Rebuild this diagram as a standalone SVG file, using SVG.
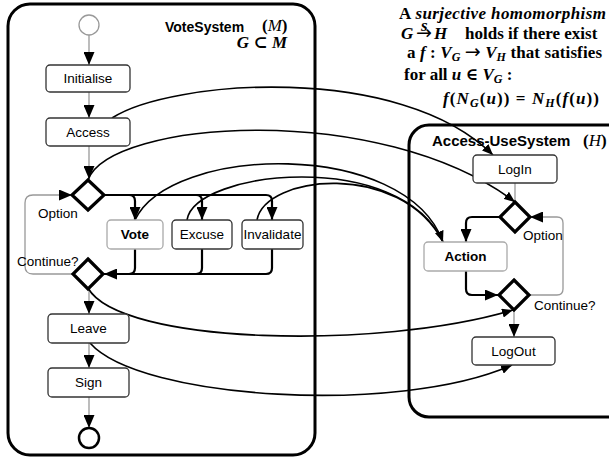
<svg xmlns="http://www.w3.org/2000/svg" width="609" height="462" viewBox="0 0 609 462">
<style>
.cont{fill:none;stroke:#000;stroke-width:3}
.box{fill:#fff;stroke:#333;stroke-width:1.3}
.boxl{fill:#fff;stroke:#aaa;stroke-width:1.3}
.dia{fill:#fff;stroke:#000;stroke-width:3.2;stroke-linejoin:miter}
.lbl{font-family:"Liberation Sans",Arial,sans-serif;font-size:13.5px;fill:#000;text-anchor:middle}
.lblb{font-family:"Liberation Sans",Arial,sans-serif;font-size:13.5px;font-weight:bold;fill:#000;text-anchor:middle}
.note{font-family:"Liberation Sans",Arial,sans-serif;font-size:13.5px;fill:#000}
.ttl{font-family:"Liberation Sans",Arial,sans-serif;font-weight:bold;fill:#000}
.m{font-family:"Liberation Serif","Times New Roman","DejaVu Serif",serif;font-size:17px;font-weight:bold;fill:#000}
.ar{font-family:"DejaVu Sans",sans-serif;font-weight:normal;font-size:19px}
.flow{fill:none;stroke:#999;stroke-width:1.3}
.thick{fill:none;stroke:#000;stroke-width:2.2}
.curve{fill:none;stroke:#000;stroke-width:1.6}
</style>
<defs>
<marker id="ah" markerUnits="userSpaceOnUse" markerWidth="13" markerHeight="11" refX="13" refY="5.5" orient="auto"><path d="M0,0 L13,5.5 L0,11 z" fill="#000"/></marker>
<marker id="ahs" markerUnits="userSpaceOnUse" markerWidth="11" markerHeight="9" refX="11" refY="4.5" orient="auto"><path d="M0,0 L11,4.5 L0,9 z" fill="#000"/></marker>
</defs>
<rect width="609" height="462" fill="#fff"/>

<g id="VoteSystem">
<rect class="cont" x="8" y="4" width="307" height="451" rx="22"/>
<text class="ttl" font-size="14" x="165" y="32">VoteSystem</text>
<text class="m" font-size="15" x="262" y="31">(<tspan font-style="italic" font-weight="normal">M</tspan>)</text>
<text class="m" font-size="16" x="287" y="48" text-anchor="end" font-style="italic">G ⊂ M</text>
</g>

<g id="AccessUseSystem">
<rect class="cont" x="409" y="125" width="220" height="292" rx="20"/>
<text class="ttl" font-size="15" x="432" y="146">Access-UseSystem</text>
<text class="m" font-size="16" x="583" y="146">(<tspan font-style="italic" font-weight="normal">H</tspan>)</text>
</g>

<g id="definition">
<text class="m" x="399" y="19" textLength="207" lengthAdjust="spacing">A <tspan font-style="italic">surjective homomorphism</tspan></text>
<text class="m" y="39"><tspan x="401" font-style="italic">G</tspan><tspan x="416" class="ar">→</tspan><tspan x="434" font-style="italic">H</tspan><tspan x="465">holds if there exist</tspan></text>
<text class="m" x="421" y="31" font-size="9" font-style="italic">s</text>
<text class="m" x="407" y="58" textLength="195" lengthAdjust="spacing">a <tspan font-style="italic">f</tspan> : <tspan font-style="italic">V</tspan><tspan font-size="12" font-style="italic" dy="3">G</tspan><tspan dy="-3"> </tspan><tspan class="ar">→</tspan><tspan> </tspan><tspan font-style="italic">V</tspan><tspan font-size="12" font-style="italic" dy="3">H</tspan><tspan dy="-3"> that satisfies</tspan></text>
<text class="m" x="404" y="80">for all <tspan font-style="italic">u</tspan> ∈ <tspan font-style="italic">V</tspan><tspan font-size="12" font-style="italic" dy="3">G</tspan><tspan dy="-3"> :</tspan></text>
<text class="m" x="443" y="104" textLength="156" lengthAdjust="spacing"><tspan font-style="italic">f</tspan>(<tspan font-style="italic">N</tspan><tspan font-size="12" font-style="italic" dy="3">G</tspan><tspan dy="-3">(</tspan><tspan font-style="italic">u</tspan>)) = <tspan font-style="italic">N</tspan><tspan font-size="12" font-style="italic" dy="3">H</tspan><tspan dy="-3">(</tspan><tspan font-style="italic">f</tspan>(<tspan font-style="italic">u</tspan>))</text>
</g>

<g id="connectors">
<line class="flow" x1="89" y1="35" x2="89" y2="65" marker-end="url(#ah)"/>
<line class="flow" x1="89" y1="92" x2="89" y2="118" marker-end="url(#ah)"/>
<line class="flow" x1="89" y1="146" x2="89" y2="179" marker-end="url(#ah)"/>
<path class="flow" d="M73,274 H33 Q25,274 25,266 V203 Q25,195 33,195 H72" marker-end="url(#ah)"/>
<path class="thick" d="M104,195 H266 Q272,195 272,201 V220" marker-end="url(#ah)"/>
<path class="thick" d="M129,195 Q135,195 135,201 V220" marker-end="url(#ah)"/>
<path class="thick" d="M196,195 Q202,195 202,201 V220" marker-end="url(#ah)"/>
<path class="thick" d="M272,249 V268 Q272,274 266,274 H104" marker-end="url(#ah)"/>
<path class="thick" d="M202,249 V268 Q202,274 196,274"/>
<path class="thick" d="M135,249 V268 Q135,274 129,274"/>
<line class="flow" x1="89" y1="289" x2="89" y2="314" marker-end="url(#ah)"/>
<line class="flow" x1="89" y1="343" x2="89" y2="368" marker-end="url(#ah)"/>
<line class="flow" x1="89" y1="397" x2="89" y2="428" marker-end="url(#ah)"/>
<line class="flow" x1="515" y1="183" x2="515" y2="202"/>
<path class="thick" d="M500,217 H472 Q466,217 466,223 V242" marker-end="url(#ah)"/>
<path class="thick" d="M466,271 V289 Q466,295 472,295 H498" marker-end="url(#ah)"/>
<line class="flow" x1="514" y1="310" x2="514" y2="337" marker-end="url(#ah)"/>
<path class="flow" d="M529,295 H557 Q563,295 563,289 V223 Q563,217 557,217 H530" marker-end="url(#ah)"/>
<path class="curve" d="M112,118 C170,80 400,62 493,155" marker-end="url(#ahs)"/>
<path class="curve" d="M88,180 C110,120 380,100 515,202" marker-end="url(#ahs)"/>
<path class="curve" d="M135,220 C170,145 405,138 443,242" marker-end="url(#ahs)"/>
<path class="curve" d="M187,220 C195,170 400,148 443,242"/>
<path class="curve" d="M257,220 C265,175 400,160 443,242"/>
<path class="curve" d="M88,288 C120,345 380,350 513,310" marker-end="url(#ahs)"/>
<path class="curve" d="M90,343 C140,400 400,415 512,365" marker-end="url(#ahs)"/>
</g>

<g id="start"><circle cx="89" cy="25" r="10" fill="#fff" stroke="#999" stroke-width="1.3"/></g>
<g id="Initialise"><rect class="box" x="46" y="65" width="84" height="27" rx="4"/><text class="lbl" x="88" y="83">Initialise</text></g>
<g id="Access"><rect class="box" x="46" y="118" width="84" height="28" rx="4"/><text class="lbl" x="88" y="137">Access</text></g>
<g id="OptionV"><polygon class="dia" points="88,180 104,195 88,210 72,195"/><text class="note" x="38" y="218">Option</text></g>
<g id="Vote"><rect class="boxl" x="107" y="220" width="56" height="29" rx="4"/><text class="lblb" x="135" y="239">Vote</text></g>
<g id="Excuse"><rect class="box" x="172" y="220" width="60" height="29" rx="4"/><text class="lbl" x="202" y="239">Excuse</text></g>
<g id="Invalidate"><rect class="box" x="242" y="220" width="61" height="29" rx="4"/><text class="lbl" x="272.5" y="239">Invalidate</text></g>
<g id="ContinueV"><polygon class="dia" points="88,259 103,274 88,289 73,274"/><text class="note" x="17" y="266">Continue?</text></g>
<g id="Leave"><rect class="box" x="48" y="314" width="81" height="29" rx="4"/><text class="lbl" x="88.5" y="333">Leave</text></g>
<g id="Sign"><rect class="box" x="48" y="368" width="81" height="29" rx="4"/><text class="lbl" x="88.5" y="387">Sign</text></g>
<g id="end"><circle cx="89" cy="438" r="10" fill="#fff" stroke="#000" stroke-width="2.5"/></g>

<g id="LogIn"><rect class="box" x="473" y="155" width="84" height="28" rx="4"/><text class="lbl" x="515" y="174">LogIn</text></g>
<g id="OptionH"><polygon class="dia" points="515,202 530,217 515,232 500,217"/><text class="note" x="523" y="240">Option</text></g>
<g id="Action"><rect class="boxl" x="424" y="242" width="83" height="29" rx="4"/><text class="lblb" x="465.5" y="261">Action</text></g>
<g id="ContinueH"><polygon class="dia" points="514,280 529,295 514,310 499,295"/><text class="note" x="534" y="310">Continue?</text></g>
<g id="LogOut"><rect class="box" x="472" y="337" width="83" height="28" rx="4"/><text class="lbl" x="513.5" y="356">LogOut</text></g>
</svg>
